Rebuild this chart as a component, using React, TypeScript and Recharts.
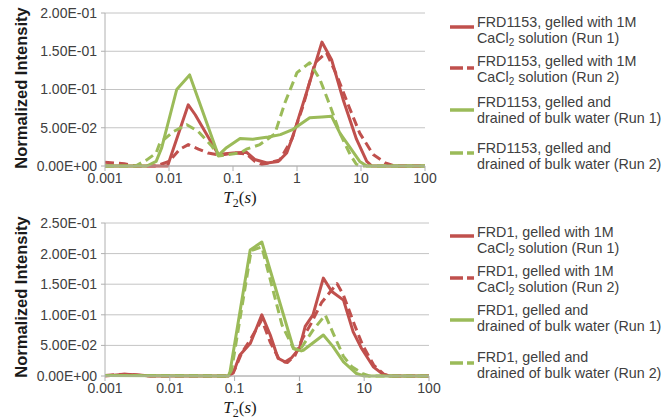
import React from 'react';
import { LineChart, Line, XAxis, YAxis, CartesianGrid } from 'recharts';

const RED = '#c0504d';
const GREEN = '#9bbb59';
const FONT = '"Liberation Sans", Arial, sans-serif';

const X_TICKS = [0.001, 0.01, 0.1, 1, 10, 100];
const TOP_Y_TICKS = [0, 0.05, 0.1, 0.15, 0.2];
const BOTTOM_Y_TICKS = [0, 0.05, 0.1, 0.15, 0.2, 0.25];

// FRD1153 (top panel): T2 in seconds, normalized intensity
const frd1153CaRun1T = [0.001, 0.0095, 0.02, 0.0257, 0.059, 0.1, 0.162, 0.219, 0.34, 0.51, 0.69, 0.87, 1.41, 2.45, 3.47, 5.25, 8.5, 12.3, 14.8, 100];
const frd1153CaRun1V = [0, 0, 0.08, 0.067, 0.015, 0.017, 0.018, 0.0085, 0.004, 0.006, 0.017, 0.04, 0.096, 0.162, 0.139, 0.087, 0.035, 0.006, 0, 0];

const frd1153CaRun2T = [0.001, 0.002, 0.003, 0.0063, 0.01, 0.0148, 0.02, 0.0288, 0.0407, 0.063, 0.1, 0.16, 0.22, 0.28, 0.355, 0.54, 0.83, 1.26, 1.91, 2.88, 4.17, 6.31, 9.55, 15.5, 24, 34, 100];
const frd1153CaRun2V = [0.005, 0.003, 0, 0, 0.006, 0.022, 0.028, 0.022, 0.017, 0.014, 0.017, 0.016, 0.006, 0.002, 0.004, 0.008, 0.035, 0.08, 0.135, 0.148, 0.119, 0.08, 0.043, 0.015, 0.004, 0, 0];

const frd1153DrRun1T = [0.001, 0.0045, 0.0063, 0.0077, 0.0132, 0.021, 0.059, 0.079, 0.129, 0.204, 0.355, 0.55, 0.87, 1.58, 2.45, 3.47, 4.68, 6.76, 9.55, 12.3, 100];
const frd1153DrRun1V = [0, 0, 0.006, 0.024, 0.1, 0.119, 0.014, 0.024, 0.036, 0.035, 0.038, 0.041, 0.048, 0.063, 0.064, 0.065, 0.043, 0.024, 0.006, 0, 0];

const frd1153DrRun2T = [0.001, 0.003, 0.0045, 0.0063, 0.0072, 0.0117, 0.019, 0.0288, 0.0468, 0.059, 0.129, 0.162, 0.263, 0.45, 0.65, 1.0, 1.58, 2.29, 3.31, 4.68, 6.76, 8.5, 10, 100];
const frd1153DrRun2V = [0, 0, 0.008, 0.017, 0.03, 0.045, 0.054, 0.045, 0.026, 0.013, 0.017, 0.022, 0.028, 0.042, 0.083, 0.122, 0.135, 0.113, 0.078, 0.043, 0.015, 0.002, 0, 0];

// FRD1 (bottom panel)
const frd1CaRun1T = [0.001, 0.002, 0.003, 0.005, 0.08, 0.0955, 0.12, 0.174, 0.263, 0.355, 0.468, 0.6, 0.76, 1.0, 1.23, 1.62, 2.34, 3.16, 4.79, 6.76, 9.12, 13.8, 20, 25, 100];
const frd1CaRun1V = [0, 0.003, 0.002, 0, 0, 0.005, 0.034, 0.053, 0.1, 0.067, 0.029, 0.023, 0.03, 0.045, 0.081, 0.1, 0.16, 0.138, 0.124, 0.072, 0.045, 0.015, 0.002, 0, 0];

const frd1CaRun2T = [0.001, 0.002, 0.005, 0.08, 0.1, 0.129, 0.174, 0.263, 0.355, 0.5, 0.65, 0.85, 1.1, 1.5, 2.2, 3.8, 4.79, 7.24, 9.5, 14, 20, 25, 100];
const frd1CaRun2V = [0.001, 0.003, 0, 0, 0.01, 0.038, 0.059, 0.092, 0.055, 0.025, 0.022, 0.033, 0.06, 0.085, 0.12, 0.151, 0.132, 0.081, 0.05, 0.018, 0.003, 0, 0];

const frd1DrRun1T = [0.001, 0.08, 0.085, 0.174, 0.263, 0.81, 1.07, 1.15, 2.34, 3.31, 4.79, 7.59, 10, 100];
const frd1DrRun1V = [0.001, 0, 0.007, 0.206, 0.219, 0.045, 0.041, 0.042, 0.067, 0.048, 0.023, 0.004, 0, 0];

const frd1DrRun2T = [0.001, 0.08, 0.09, 0.18, 0.263, 0.54, 0.81, 1.0, 1.15, 1.62, 2.51, 3.31, 4.79, 6.46, 9.5, 12, 100];
const frd1DrRun2V = [0.001, 0, 0.01, 0.205, 0.211, 0.083, 0.045, 0.042, 0.051, 0.075, 0.0997, 0.07, 0.032, 0.015, 0.004, 0, 0];

const pts = (t: number[], v: number[]) => t.map((x, i) => ({ t: x, v: v[i] }));

const fmtExp = (v: number) => {
  const [m, e] = v.toExponential(2).split('e');
  const n = Math.abs(parseInt(e, 10));
  return `${m}E${e.startsWith('-') ? '-' : '+'}${n < 10 ? '0' + n : n}`;
};

type Series = { data: { t: number; v: number }[]; color: string; dashed: boolean };

function Panel({ series, yTicks, width }: { series: Series[]; yTicks: number[]; width: number }) {
  const tick = { fill: '#404040', fontSize: 14, fontFamily: FONT };
  return (
    <LineChart width={width} height={205} margin={{ top: 13, right: 15, left: 0, bottom: 9 }}>
      <CartesianGrid vertical={false} stroke="#c4c4c4" />
      <XAxis
        dataKey="t"
        type="number"
        scale="log"
        domain={[0.001, 100]}
        ticks={X_TICKS}
        allowDataOverflow
        tickFormatter={(v: number) => String(v)}
        height={30}
        tick={tick}
        tickSize={5}
        tickMargin={2}
        stroke="#b0b0b0"
      />
      <YAxis
        type="number"
        domain={[0, yTicks[yTicks.length - 1]]}
        ticks={yTicks}
        tickFormatter={fmtExp}
        width={105}
        tick={tick}
        tickSize={4}
        tickMargin={4}
        stroke="#b0b0b0"
      />
      {series.map((s, i) => (
        <Line
          key={i}
          data={s.data}
          dataKey="v"
          type="linear"
          stroke={s.color}
          strokeWidth={3}
          strokeDasharray={s.dashed ? '9 5' : undefined}
          strokeLinejoin="round"
          dot={false}
          activeDot={false}
          isAnimationActive={false}
        />
      ))}
    </LineChart>
  );
}

function LegendItem({ top, sampleY, color, dashed, line1, line2 }: {
  top: number; sampleY: number; color: string; dashed: boolean; line1: React.ReactNode; line2: React.ReactNode;
}) {
  return (
    <>
      <svg style={{ position: 'absolute', left: 449, top: sampleY - 3, width: 26, height: 6 }}>
        <line x1={1} y1={3} x2={25} y2={3} stroke={color} strokeWidth={3.5} strokeDasharray={dashed ? '13 4' : undefined} />
      </svg>
      <div style={{ position: 'absolute', left: 477, top, fontFamily: FONT, fontSize: 14.3, lineHeight: '16px', color: '#404040', whiteSpace: 'nowrap' }}>
        <div>{line1}</div>
        <div>{line2}</div>
      </div>
    </>
  );
}

const CaCl2 = (run: number) => (
  <>CaCl<sub style={{ fontSize: 10, verticalAlign: -3, lineHeight: 0 }}>2</sub> solution (Run {run})</>
);

function YTitle({ cy }: { cy: number }) {
  return (
    <div style={{ position: 'absolute', left: 21, top: cy, transform: 'translate(-50%, -50%) rotate(-90deg)', fontFamily: FONT, fontWeight: 'bold', fontSize: 16.5, color: '#1a1a1a', whiteSpace: 'nowrap' }}>
      Normalized Intensity
    </div>
  );
}

function XTitle({ cy }: { cy: number }) {
  return (
    <div style={{ position: 'absolute', left: 240, top: cy, transform: 'translate(-50%, -50%)', fontFamily: '"Liberation Serif", serif', fontSize: 17, color: '#1a1a1a', whiteSpace: 'nowrap' }}>
      <i>T</i><sub style={{ fontSize: 12, lineHeight: 0 }}>2</sub>(<i>s</i>)
    </div>
  );
}

export default function App() {
  const top: Series[] = [
    { data: pts(frd1153CaRun1T, frd1153CaRun1V), color: RED, dashed: false },
    { data: pts(frd1153CaRun2T, frd1153CaRun2V), color: RED, dashed: true },
    { data: pts(frd1153DrRun1T, frd1153DrRun1V), color: GREEN, dashed: false },
    { data: pts(frd1153DrRun2T, frd1153DrRun2V), color: GREEN, dashed: true },
  ];
  const bottom: Series[] = [
    { data: pts(frd1CaRun1T, frd1CaRun1V), color: RED, dashed: false },
    { data: pts(frd1CaRun2T, frd1CaRun2V), color: RED, dashed: true },
    { data: pts(frd1DrRun1T, frd1DrRun1V), color: GREEN, dashed: false },
    { data: pts(frd1DrRun2T, frd1DrRun2V), color: GREEN, dashed: true },
  ];

  return (
    <div style={{ position: 'absolute', left: 0, top: 0, width: 670, height: 420, background: '#fff', overflow: 'hidden' }}>
      <div style={{ position: 'absolute', left: 0, top: 0 }}>
        <Panel series={top} yTicks={TOP_Y_TICKS} width={440} />
      </div>
      <div style={{ position: 'absolute', left: 0, top: 210 }}>
        <Panel series={bottom} yTicks={BOTTOM_Y_TICKS} width={444} />
      </div>
      <YTitle cy={88} />
      <YTitle cy={297} />
      <XTitle cy={198} />
      <XTitle cy={408} />

      <LegendItem top={14} sampleY={27} color={RED} dashed={false} line1="FRD1153, gelled with 1M" line2={CaCl2(1)} />
      <LegendItem top={53} sampleY={68} color={RED} dashed line1="FRD1153, gelled with 1M" line2={CaCl2(2)} />
      <LegendItem top={94} sampleY={110} color={GREEN} dashed={false} line1="FRD1153, gelled and" line2="drained of bulk water (Run 1)" />
      <LegendItem top={140} sampleY={153} color={GREEN} dashed line1="FRD1153, gelled and" line2="drained of bulk water (Run 2)" />

      <LegendItem top={224} sampleY={236} color={RED} dashed={false} line1="FRD1, gelled with 1M" line2={CaCl2(1)} />
      <LegendItem top={263} sampleY={278} color={RED} dashed line1="FRD1, gelled with 1M" line2={CaCl2(2)} />
      <LegendItem top={302} sampleY={320} color={GREEN} dashed={false} line1="FRD1, gelled and" line2="drained of bulk water (Run 1)" />
      <LegendItem top={349} sampleY={363} color={GREEN} dashed line1="FRD1, gelled and" line2="drained of bulk water (Run 2)" />
    </div>
  );
}
